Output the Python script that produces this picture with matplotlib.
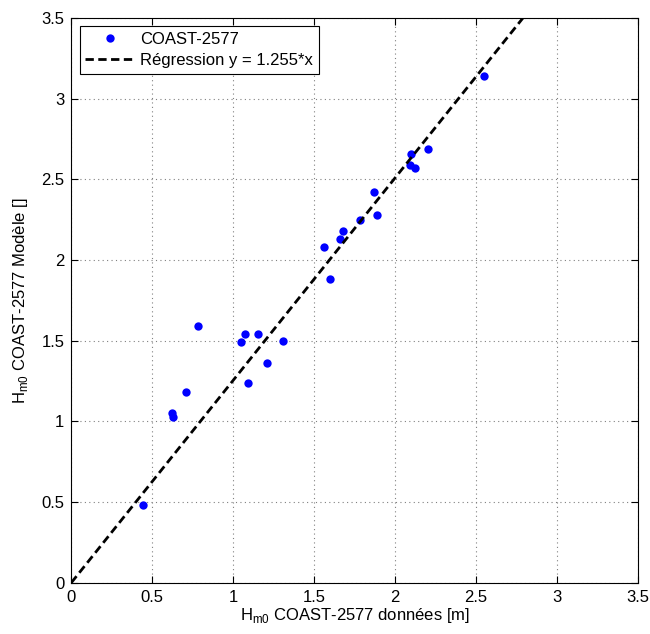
import matplotlib
matplotlib.use('Agg')
import matplotlib.pyplot as plt
import numpy as np

plt.rcParams['font.family'] = ['Liberation Sans', 'DejaVu Sans']

# Hm0 data vs model
h_data = [0.44, 0.62, 0.63, 0.71, 0.78, 1.05, 1.07, 1.09, 1.15, 1.21, 1.31,
          1.56, 1.60, 1.66, 1.68, 1.78, 1.87, 1.89, 2.09, 2.10, 2.12, 2.20, 2.55]
h_model = [0.48, 1.05, 1.03, 1.18, 1.59, 1.49, 1.54, 1.24, 1.54, 1.36, 1.50,
           2.08, 1.88, 2.13, 2.18, 2.25, 2.42, 2.28, 2.59, 2.66, 2.57, 2.69, 3.14]
slope = 1.255
ticks = [0, 0.5, 1, 1.5, 2, 2.5, 3, 3.5]
tick_labels = ['0', '0.5', '1', '1.5', '2', '2.5', '3', '3.5']

fs = 12

fig = plt.figure(figsize=(6.5, 6.34), dpi=100)
ax = fig.add_axes([0.1097, 0.0809, 0.872, 0.8907])

ax.plot(h_data, h_model, 'o', color='#0000ff', markersize=6,
        markeredgewidth=0, label='COAST-2577')
xr = np.array([0, 3.5])
ax.plot(xr, slope * xr, '--', color='black', linewidth=2, dashes=(3, 1.6),
        label='Régression y = %.3f*x' % slope)

ax.set_xlim(0, 3.5)
ax.set_ylim(0, 3.5)
ax.set_xticks(ticks)
ax.set_yticks(ticks)
ax.set_xticklabels(tick_labels)
ax.set_yticklabels(tick_labels)
ax.tick_params(direction='in', top=True, right=True, labelsize=fs, length=5,
               pad=5)
ax.grid(True, linestyle=(0, (1, 3)), color='#808080', linewidth=0.8)

ax.set_xlabel('H$_{\\mathregular{m0}}$ COAST-2577 données [m]', fontsize=fs,
              labelpad=1)
ax.set_ylabel('H$_{\\mathregular{m0}}$ COAST-2577 Modèle []', fontsize=fs,
              labelpad=8)

leg = ax.legend(loc='upper left', fontsize=fs, fancybox=False, framealpha=1,
                edgecolor='black', borderaxespad=0.5, handlelength=3.0,
                handletextpad=0.3, borderpad=0.35, labelspacing=0.35)
leg.get_frame().set_linewidth(0.8)

plt.savefig('out.png', dpi=100)
